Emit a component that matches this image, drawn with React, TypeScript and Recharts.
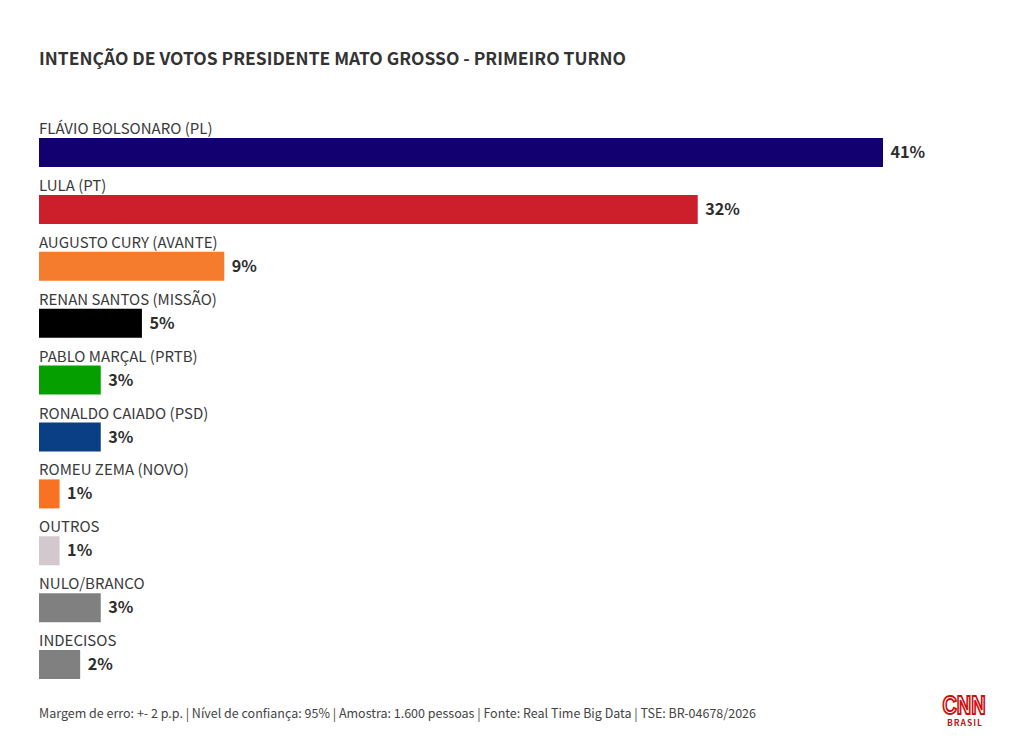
import React from "react";
import { BarChart, Bar, XAxis, YAxis, Cell, LabelList } from "recharts";

const categories = ["FLÁVIO BOLSONARO (PL)", "LULA (PT)", "AUGUSTO CURY (AVANTE)", "RENAN SANTOS (MISSÃO)", "PABLO MARÇAL (PRTB)", "RONALDO CAIADO (PSD)", "ROMEU ZEMA (NOVO)", "OUTROS", "NULO/BRANCO", "INDECISOS"];
const values = [41, 32, 9, 5, 3, 3, 1, 1, 3, 2];
const colors = ["#120071", "#cc1f2b", "#f47c2c", "#000000", "#059f00", "#0a3f86", "#f97221", "#d3c8cd", "#808080", "#808080"];
const data = categories.map((name, i) => ({ name, value: values[i] }));
const FONT = '"Noto Sans CJK SC", "Source Sans Pro", sans-serif';

const NameLabel = (p: any) => (
  <text x={p.x} y={p.y - 4} fontFamily={FONT} fontSize={15} fill="#3a3a3a">{p.value}</text>
);
const ValueLabel = (p: any) => (
  <text x={p.x + p.width + 7.5} y={p.y + p.height / 2 + 5.5} fontFamily={FONT} fontSize={16.2} fontWeight={700} fill="#2e2e2e">{p.value}%</text>
);

export default function App() {
  return (
    <div style={{ position: "absolute", left: 0, top: 0, width: 1020, height: 740, background: "#fff", overflow: "hidden", fontFamily: FONT }}>
      <div style={{ position: "absolute", left: 39, top: 45, fontSize: 17.45, fontWeight: 700, color: "#333", whiteSpace: "nowrap", lineHeight: "26px" }}>
        INTENÇÃO DE VOTOS PRESIDENTE MATO GROSSO - PRIMEIRO TURNO
      </div>
      <BarChart width={1020} height={740} layout="vertical" data={data} margin={{ top: 124, right: 137, bottom: 47, left: 39 }} barCategoryGap={0}>
        <XAxis type="number" domain={[0, 41]} hide />
        <YAxis type="category" dataKey="name" hide />
        <Bar dataKey="value" barSize={29} isAnimationActive={false}>
          {data.map((d, i) => <Cell key={d.name} fill={colors[i]} />)}
          <LabelList dataKey="name" content={NameLabel} />
          <LabelList dataKey="value" content={ValueLabel} />
        </Bar>
      </BarChart>
      <div style={{ position: "absolute", left: 39, top: 703, fontSize: 12.5, color: "#444", whiteSpace: "nowrap", lineHeight: "20px" }}>
        Margem de erro: +- 2 p.p. | Nível de confiança: 95% | Amostra: 1.600 pessoas | Fonte: Real Time Big Data | TSE: BR-04678/2026
      </div>
      <svg style={{ position: "absolute", left: 914, top: 680 }} width={100} height={56}>
        <text x={50} y={34} textAnchor="middle" fontFamily="'Liberation Sans', sans-serif" fontSize={25} fontWeight={700} fill="#fff" stroke="#cc1111" strokeWidth={2} textLength={43} lengthAdjust="spacingAndGlyphs">CNN</text>
        <text x={51} y={45.5} textAnchor="middle" fontFamily={FONT} fontSize={8.5} fontWeight={700} fill="#c01818" letterSpacing={1}>BRASIL</text>
      </svg>
    </div>
  );
}
